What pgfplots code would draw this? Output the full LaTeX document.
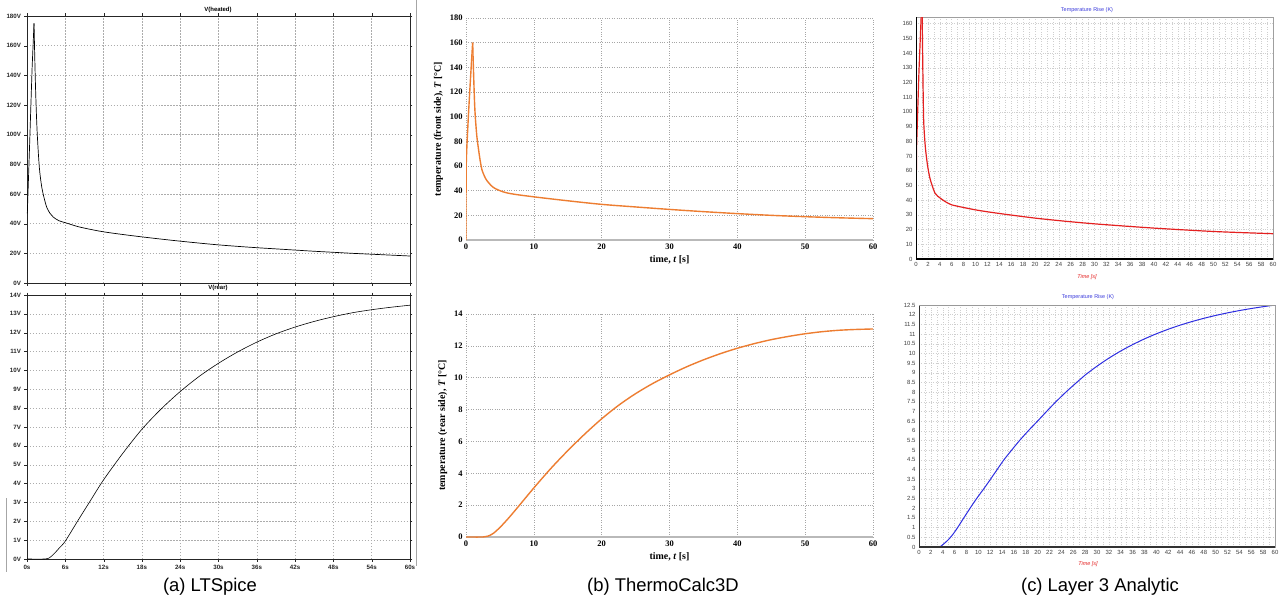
\documentclass[border=0pt]{standalone}
\usepackage{fontspec}
\setmainfont{Liberation Sans}
\newfontfamily\tnr{Liberation Serif}
\usepackage{pgfplots}
\pgfplotsset{compat=1.18}
\usepackage{pgfplotstable}
\definecolor{tcorange}{RGB}{237,125,49}
\definecolor{lred}{RGB}{228,32,32}
\definecolor{lblue}{RGB}{45,45,225}
\definecolor{ttblue}{RGB}{60,60,220}

% (a) heated: rise and decay
\pgfplotstableread{
t v
0.05 47
0.4 92
0.8 145
1.1 175
}\Aheatrise
\pgfplotstableread{
t v
1.1 175
1.25 146
1.4 123
1.6 101
1.93 78
2.3 65
2.7 57
3.1 51
3.6 47
4.1 44.5
5.0 42
6.2 40.4
8 38
10 36.1
12 34.5
15 32.7
18 31.1
21 29.6
24 28.2
27 26.9
30 25.7
33 24.7
36 23.8
39 23.0
42 22.2
45 21.4
48 20.7
51 20.0
54 19.4
57 18.8
60 18.2
}\Aheated

\pgfplotstableread{
t v
0 0
2.7 0
3.5 0.06
4.3 0.3
5.1 0.6
6 0.95
8 2.05
10 3.13
12 4.2
15 5.6
18 6.88
21 7.95
24 8.88
27 9.69
30 10.38
33 10.98
36 11.5
39 11.94
42 12.3
45 12.6
48 12.85
51 13.06
54 13.22
57 13.35
60 13.46
}\Arear

\pgfplotstableread{
t v
0 0
0.03 60
0.3 95
0.6 125
0.98 160
}\Bfrontrise
\pgfplotstableread{
t v
0.98 160
1.1 138
1.25 113
1.37 100
1.6 84
1.86 73
2.1 64
2.35 57
2.7 52
3.1 48
4.07 42.5
5.5 39
7 37.2
10 35
15 31.8
20 28.9
25 26.8
30 24.8
35 23
40 21.4
45 20
50 18.9
55 18
60 17.3
}\Bfront

\pgfplotstableread{
t v
0 0
2.5 0
3.2 0.05
4 0.22
5 0.6
6.2 1.15
7.5 1.8
10 3.08
12.5 4.3
15 5.42
17.5 6.46
20 7.42
22.5 8.27
25 9.0
27.5 9.63
30 10.18
32.5 10.68
35 11.12
37.5 11.51
40 11.85
42.5 12.14
45 12.39
47.5 12.59
50 12.76
52.5 12.89
55 12.98
57.5 13.03
60 13.06
}\Brear

\pgfplotstableread{
t v
0 0
0.08 74
0.5 128
1.0 178
}\Cfrontrise
\pgfplotstableread{
t v
1.0 178
1.15 128
1.29 94
1.57 76
1.96 63
2.4 54
3.2 44.7
4.1 41.3
5 38.8
6 36.8
8 35
10 33.4
12 32.1
15 30.4
20 27.8
25 25.7
30 23.9
35 22.4
40 21
45 19.8
50 18.7
55 17.9
60 17.2
}\Cfront

\pgfplotstableread{
t v
0 0
3.3 0
4 0.12
4.95 0.38
5.8 0.69
6.5 1
7.5 1.48
8.6 2
9.7 2.5
10.9 3
12 3.48
13.1 3.97
14.3 4.5
15.6 5
17 5.52
18.5 6.03
20 6.51
21.4 6.97
23 7.48
25 8.07
28 8.88
30 9.34
32 9.755
34 10.125
36 10.454
38 10.75
40 11.013
42 11.248
44 11.458
46 11.645
48 11.812
50 11.961
52 12.094
54 12.213
56 12.319
58 12.413
60 12.498
}\Crear

\pgfplotsset{
  base/.style={scale only axis, anchor=north west, xmin=0, xmax=60,
    /pgf/number format/assume math mode=true},
  spice/.style={base, grid=major,
    grid style={gray!65, dash pattern=on 1.5pt off 1.5pt, line width=0.4pt},
    axis line style={black!85, line width=0.8pt},
    tick label style={font=\fontsize{6.2}{7}\selectfont\bfseries, text=black!85},
    tick align=outside, major tick length=2.5bp, tick style={black!85},
    xtick={0,6,...,60}},
  tcalc/.style={base, grid=major,
    grid style={gray!70, dotted, line width=0.5pt},
    axis x line=bottom, axis y line=left,
    x axis line style={-, gray!55, line width=1.3pt},
    y axis line style={-, draw=none},
    major tick length=0pt,
    tick label style={font=\tnr\fontsize{8.5}{9}\selectfont\bfseries},
    label style={font=\tnr\fontsize{10}{11}\selectfont\bfseries},
    xtick={0,10,...,60}},
  lay/.style={base, grid=major, xminorgrids=true, minor x tick num=1,
    grid style={gray!38, dotted, line width=0.45pt},
    minor grid style={gray!38, dotted, line width=0.45pt},
    axis line style={gray!75, line width=0.9pt},
    major tick length=0pt, minor tick length=0pt,
    tick label style={font=\fontsize{6}{7}\selectfont, text=black!75},
    xtick={0,2,...,60}},
}

\begin{document}
\begin{tikzpicture}
\useasboundingbox (0,0) rectangle (1282bp,-600bp);
\fill[white] (0,0) rectangle (1282bp,-600bp);
% LTSpice window edges
\draw[gray!70, line width=0.6pt] (416bp,0) -- (416bp,-566bp);
\draw[gray!70, line width=0.6pt] (6bp,-498bp) -- (6bp,-572bp);

% (a) top
\begin{axis}[spice, at={(27bp,-16bp)}, width=383bp, height=267bp,
  ymin=0, ymax=180, ytick={0,20,...,180},
  yticklabel={\pgfmathprintnumber{\tick}V}, xticklabels={}]
\addplot[black, line width=0.7pt] table[x=t,y=v] {\Aheatrise};
\addplot[black, line width=0.7pt, smooth, tension=0.5] table[x=t,y=v] {\Aheated};
\end{axis}
\node[font=\fontsize{6}{7}\selectfont\bfseries] at (218bp,-10bp) {V(heated)};

% (a) bottom
\begin{axis}[spice, at={(27bp,-295bp)}, width=383bp, height=264bp,
  ymin=0, ymax=14, ytick={0,1,...,14},
  yticklabel={\pgfmathprintnumber{\tick}V},
  xticklabel={\pgfmathprintnumber{\tick}s}]
\addplot[black, line width=0.6pt, smooth, tension=0.5] table[x=t,y=v] {\Arear};
\end{axis}
\node[font=\fontsize{6}{7}\selectfont\bfseries] at (218bp,-288bp) {V(rear)};
\node[font=\fontsize{18.5}{20}\selectfont] at (210bp,-587bp) {(a) LTSpice};

% (b) top
\begin{axis}[tcalc, at={(466bp,-18bp)}, width=407bp, height=222bp,
  ymin=0, ymax=180, ytick={0,20,...,180},
  xlabel={time, \textit{t} [s]},
  ylabel={temperature (front side), \textit{T} [°C]}]
\addplot[tcorange, line width=1.4pt, smooth, tension=0.4] table[x=t,y=v] {\Bfrontrise};
\addplot[tcorange, line width=1.4pt, smooth, tension=0.5] table[x=t,y=v] {\Bfront};
\end{axis}

% (b) bottom
\begin{axis}[tcalc, at={(466bp,-314bp)}, width=407bp, height=223bp,
  ymin=0, ymax=14, ytick={0,2,...,14},
  xlabel={time, \textit{t} [s]},
  ylabel={temperature (rear side), \textit{T} [°C]}]
\addplot[tcorange, line width=1.4pt, smooth, tension=0.5] table[x=t,y=v] {\Brear};
\end{axis}
\node[font=\fontsize{18.5}{20}\selectfont] at (663bp,-587bp) {(b) ThermoCalc3D};

% (c) top
\begin{axis}[lay, at={(916bp,-17bp)}, width=357bp, height=242bp,
  ymin=0, ymax=164.5, ytick={0,10,...,160}]
\addplot[lred, line width=1.2pt] table[x=t,y=v] {\Cfrontrise};
\addplot[lred, line width=1.2pt, smooth, tension=0.4] table[x=t,y=v] {\Cfront};
\draw[black, line width=1.2pt] (rel axis cs:0,1) -- (rel axis cs:0,0) -- (rel axis cs:1,0);
\end{axis}
\node[font=\fontsize{5.5}{6}\selectfont, text=ttblue] at (1087bp,-10bp) {Temperature Rise (K)};
\node[font=\fontsize{5.5}{6}\selectfont\itshape, text=lred] at (1087bp,-277bp) {Time [s]};

% (c) bottom
\begin{axis}[lay, at={(919bp,-305bp)}, width=356bp, height=242bp,
  ymin=0, ymax=12.5, ytick={0,0.5,...,12.5},
  yticklabel style={/pgf/number format/fixed}]
\addplot[lblue, line width=1.0pt, smooth, tension=0.4] table[x=t,y=v] {\Crear};
\draw[black!80, line width=1.2pt] (rel axis cs:0,1) -- (rel axis cs:0,0) -- (rel axis cs:1,0);
\draw[gray!80, line width=1.0pt] (rel axis cs:0,1) -- (rel axis cs:1,1);
\end{axis}
\node[font=\fontsize{5.5}{6}\selectfont, text=ttblue] at (1088bp,-297bp) {Temperature Rise (K)};
\node[font=\fontsize{5.5}{6}\selectfont\itshape, text=lred] at (1088bp,-564bp) {Time [s]};
\node[font=\fontsize{18.5}{20}\selectfont] at (1100bp,-587bp) {(c) Layer 3 Analytic};
\end{tikzpicture}
\end{document}
